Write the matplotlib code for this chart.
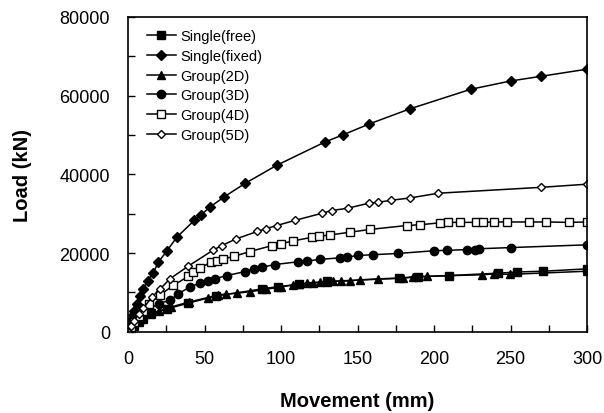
import matplotlib.pyplot as plt
from matplotlib.ticker import MultipleLocator

plt.rcParams['font.family'] = ['Liberation Sans', 'DejaVu Sans']

free_x = [0, 2, 4, 7, 10, 15, 25.3, 39.4, 57.5, 87.4, 98.2, 112, 130, 177.3, 189.8, 210, 242, 254, 271.5, 300]
free_y = [0, 900, 1700, 2700, 3500, 4700, 5800, 7300, 9100, 10900, 11500, 12100, 12800, 13600, 14000,
          14300, 14900, 15200, 15400, 16000]

fixed_x = [0, 1, 2, 3, 4, 6, 8, 10, 13, 16.5, 19.8, 25.3, 31.8, 43.3, 47.7, 53.6, 62.5, 76.5, 97.2,
           128.6, 140.3, 157.7, 184, 224, 250, 270, 300]
fixed_y = [0, 1500, 3000, 4200, 5300, 7200, 9000, 10900, 13000, 15000, 17700, 20500, 24000, 28300,
           29700, 31700, 34200, 37700, 42300, 48200, 50000, 52800, 56600, 61600, 63700, 64900, 66700]

g2_x = [0, 2, 4, 7, 10, 15, 20, 28, 40, 52, 59, 64, 71, 79.7, 90, 100, 108, 112, 116.8, 121, 125.5,
        130, 134, 139, 145, 151.6, 163.6, 180, 186, 195.6, 231.6, 239.2, 249.7, 300]
g2_y = [0, 800, 1500, 2500, 3300, 4500, 5300, 6300, 7600, 8700, 9400, 9600, 9800, 10200, 10800, 11400,
        11900, 12100, 12400, 12500, 12600, 12700, 12800, 12900, 12950, 13200, 13460, 13700, 13950,
        14100, 14500, 14700, 14600, 15400]

g3_x = [0, 2, 4, 7, 10, 14, 20, 27.5, 32.9, 40.5, 47, 52.5, 56.9, 64.5, 76.5, 82, 87.3, 96, 111.3,
        116.8, 125.5, 138.6, 143, 150.5, 160.3, 176.3, 200, 208.7, 221.8, 226.8, 229.4, 250, 300]
g3_y = [0, 1000, 2000, 3200, 4300, 5800, 7200, 8000, 9700, 11400, 12400, 13000, 13500, 14300, 15300,
        16000, 16400, 17100, 17800, 18000, 18400, 18800, 19000, 19400, 19600, 19900, 20600, 20700,
        20900, 20900, 21100, 21400, 22100]

g4_x = [0, 2, 4, 7, 10, 14, 21, 29.6, 39.4, 42.7, 47, 54.2, 58, 62.3, 69.5, 79.7, 94, 100, 108, 120,
        125, 132, 145, 158, 182, 191, 204, 209, 217, 227.5, 232, 239, 247.5, 262, 273, 288, 300]
g4_y = [0, 1300, 2500, 4000, 5300, 7200, 9400, 11800, 14100, 15200, 16200, 17700, 17900, 18500, 19200,
        20400, 21900, 22400, 23100, 24000, 24300, 24600, 25300, 26000, 27000, 27200, 27700, 27800,
        27800, 27800, 27800, 27900, 27900, 27900, 27900, 27800, 27900]

g5_x = [0, 2, 4, 7, 10, 15.5, 21, 27.5, 39.4, 55.8, 61.2, 70.6, 84.5, 90, 97.2, 109, 126.6, 133,
        143.6, 157.7, 163.6, 171.7, 184.3, 202.6, 270, 300]
g5_y = [0, 1500, 2800, 4500, 6000, 8800, 10900, 13500, 16700, 20800, 21900, 23600, 25500, 26200,
        27000, 28300, 30100, 30800, 31400, 32700, 32900, 33400, 34000, 35200, 36700, 37500]

fig = plt.figure(figsize=(6.04, 4.14), dpi=100)
ax = fig.add_axes([0.212, 0.196, 0.760, 0.761])

lw = 1.1
ax.plot(free_x, free_y, color='black', lw=lw, marker='s', ms=5.5, label='Single(free)')
ax.plot(fixed_x, fixed_y, color='black', lw=lw, marker='D', ms=5, label='Single(fixed)')
ax.plot(g2_x, g2_y, color='black', lw=lw, marker='^', ms=5.5, label='Group(2D)')
ax.plot(g3_x, g3_y, color='black', lw=lw, marker='o', ms=6, label='Group(3D)')
ax.plot(g4_x, g4_y, color='black', lw=lw, marker='s', ms=6, mfc='white', label='Group(4D)')
ax.plot(g5_x, g5_y, color='black', lw=lw, marker='D', ms=4.5, mfc='white', label='Group(5D)')

ax.set_xlim(0, 300)
ax.set_ylim(0, 80000)
ax.xaxis.set_major_locator(MultipleLocator(50))
ax.xaxis.set_minor_locator(MultipleLocator(25))
ax.yaxis.set_major_locator(MultipleLocator(20000))
ax.yaxis.set_minor_locator(MultipleLocator(10000))
ax.tick_params(which='both', direction='in', labelsize=13, width=1, colors='black', length=5)
ax.tick_params(axis='x', pad=13)
ax.tick_params(axis='y', pad=13)
for s in ax.spines.values():
    s.set_linewidth(1.2)

ax.set_xlabel('Movement (mm)', fontsize=14.5, fontweight='bold', labelpad=17)
ax.set_ylabel('Load (kN)', fontsize=14.5, fontweight='bold', labelpad=20)

ax.legend(loc='upper left', bbox_to_anchor=(0.012, 1.003), frameon=False, fontsize=10.5,
          handlelength=2.0, handletextpad=0.3, labelspacing=0.4)

fig.savefig('out.png', dpi=100)
